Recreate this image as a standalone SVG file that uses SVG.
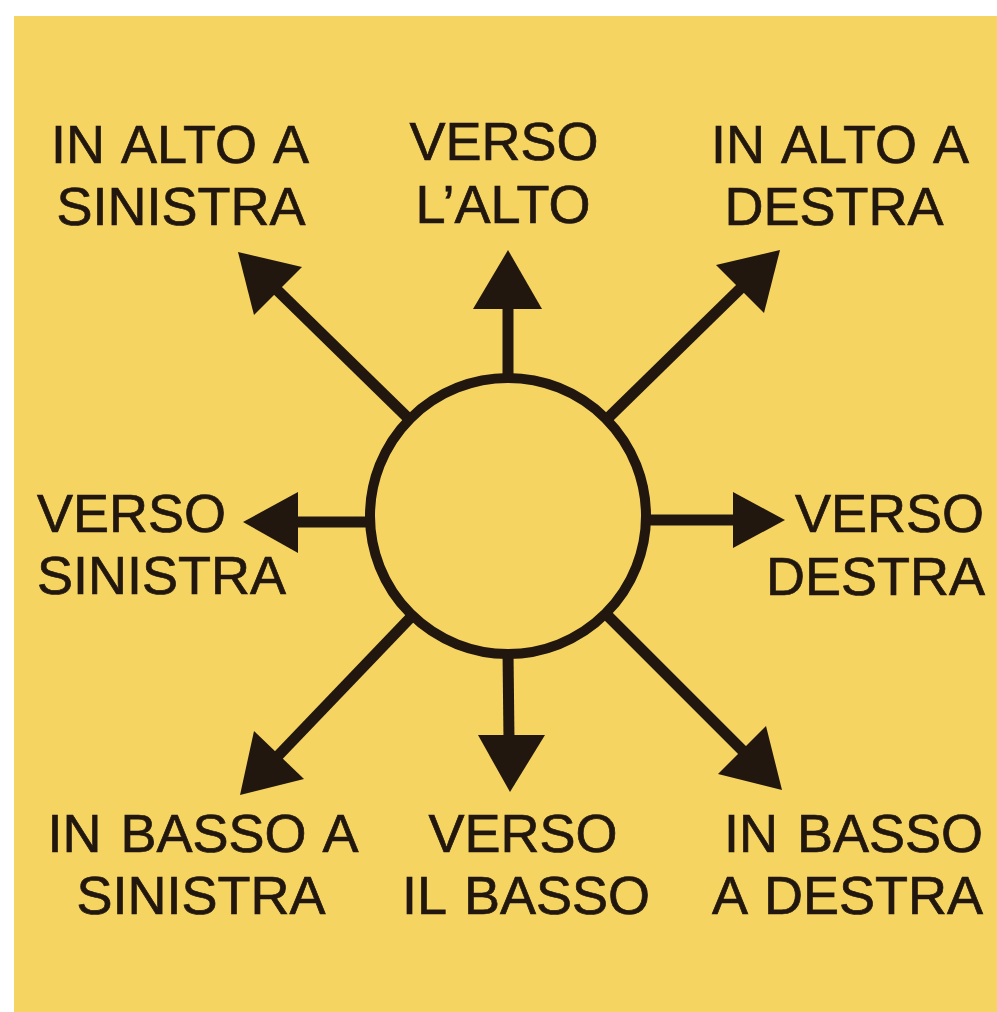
<svg xmlns="http://www.w3.org/2000/svg" width="997" height="1012" viewBox="0 0 997 1012">
  <style>
    .lbl { font-family: "Liberation Sans", Arial, sans-serif; font-size: 54px; word-spacing: 4px; fill: #22170f; stroke: #22170f; stroke-width: 0.7px; }
    .shaft { stroke: #22170f; stroke-width: 11; fill: none; }
    .head { fill: #22170f; }
  </style>
  <rect x="0" y="0" width="997" height="1012" fill="#ffffff"/>
  <rect x="14" y="16" width="983" height="996" fill="#f5d462"/>

  <g id="connectors">
    <line class="shaft" x1="508" y1="380" x2="508" y2="305"/>
    <polygon class="head" points="508,250 542,309 473,309"/>
    <line class="shaft" x1="508" y1="652" x2="509" y2="740"/>
    <polygon class="head" points="478,735 545,735 510,792"/>
    <line class="shaft" x1="372" y1="522" x2="292" y2="522"/>
    <polygon class="head" points="243,522 298,492 298,553"/>
    <line class="shaft" x1="644" y1="520" x2="738" y2="520"/>
    <polygon class="head" points="785,520 733,492 733,548"/>
    <line class="shaft" x1="409" y1="419" x2="274" y2="287"/>
    <polygon class="head" points="238,252 302,267 254,315"/>
    <line class="shaft" x1="607" y1="419" x2="744" y2="285"/>
    <polygon class="head" points="780,250 764,313 716,265"/>
    <line class="shaft" x1="412" y1="616" x2="275" y2="759"/>
    <polygon class="head" points="240,795 254,731 304,779"/>
    <line class="shaft" x1="606" y1="614" x2="746" y2="754"/>
    <polygon class="head" points="782,790 766,726 718,774"/>
  </g>

  <g id="center">
    <circle cx="508" cy="516" r="138" fill="none" stroke="#22170f" stroke-width="10"/>
  </g>

  <g id="up-left"><text class="lbl" x="180" y="163" text-anchor="middle">IN ALTO A</text><text class="lbl" x="181" y="225" text-anchor="middle">SINISTRA</text></g>
  <g id="up"><text class="lbl" x="504" y="160" text-anchor="middle">VERSO</text><text class="lbl" x="503" y="223" text-anchor="middle">L’ALTO</text></g>
  <g id="up-right"><text class="lbl" x="840" y="163" text-anchor="middle">IN ALTO A</text><text class="lbl" x="834" y="225" text-anchor="middle">DESTRA</text></g>
  <g id="left"><text class="lbl" x="37" y="532">VERSO</text><text class="lbl" x="37" y="594">SINISTRA</text></g>
  <g id="right"><text class="lbl" x="984" y="532" text-anchor="end">VERSO</text><text class="lbl" x="985" y="595" text-anchor="end">DESTRA</text></g>
  <g id="down-left"><text class="lbl" x="203" y="852" text-anchor="middle">IN BASSO A</text><text class="lbl" x="201" y="914" text-anchor="middle">SINISTRA</text></g>
  <g id="down"><text class="lbl" x="523" y="852" text-anchor="middle">VERSO</text><text class="lbl" x="526" y="914" text-anchor="middle">IL BASSO</text></g>
  <g id="down-right"><text class="lbl" x="983" y="852" text-anchor="end">IN BASSO</text><text class="lbl" x="983" y="914" text-anchor="end">A DESTRA</text></g>
</svg>
